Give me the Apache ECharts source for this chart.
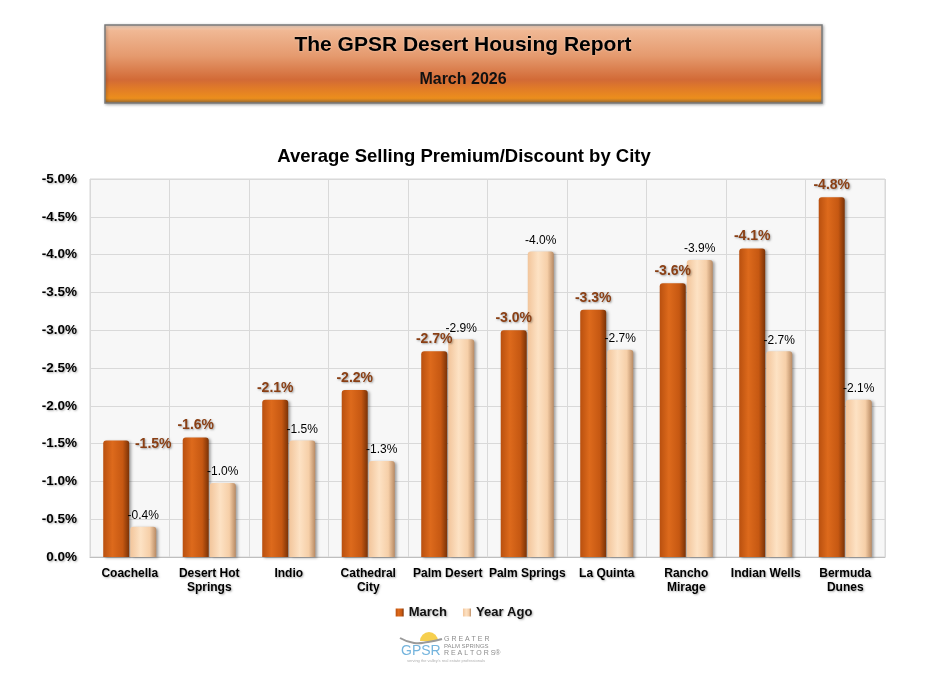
<!DOCTYPE html>
<html style="height: 100%">
<head>
    <meta charset="utf-8">
    <style>
        body{margin:0;background:#fff}
        #container{width:928px;height:674px}
    </style>
</head>
<body>
<div id="container"></div>
<script src="https://cdn.jsdelivr.net/npm/echarts@6/dist/echarts.min.js"></script>
<script type="text/javascript">
    var cities = ["Coachella", "Desert Hot\nSprings", "Indio", "Cathedral\nCity", "Palm Desert",
        "Palm Springs", "La Quinta", "Rancho\nMirage", "Indian Wells", "Bermuda\nDunes"];
    var march = [-1.54, -1.58, -2.08, -2.21, -2.72, -3.0, -3.27, -3.62, -4.08, -4.76];
    var yearAgo = [-0.40, -0.98, -1.54, -1.27, -2.88, -4.04, -2.74, -3.93, -2.72, -2.08];
    var seriesNames = ["March", "Year Ago"];

    var font = "Liberation Sans, Arial, sans-serif";
    var myChart = echarts.init(document.getElementById("container"));

    function pct(v) {
        return v.toFixed(1) + "%";
    }

    // coachella's march label sits to the right of its bar in the original
    var marchData = march.map(function (v, i) {
        if (i === 0) {
            return {value: v, label: {offset: [37, 16]}};
        }
        return v;
    });

    var option = {
        backgroundColor: "#fff",
        textStyle: {fontFamily: font},
        title: {
            text: "Average Selling Premium/Discount by City",
            left: "center",
            top: 142,
            textStyle: {fontSize: 18.5, fontWeight: "bold", color: "#000", fontFamily: font}
        },
        legend: {
            data: seriesNames,
            left: "center",
            top: 601,
            icon: "rect",
            itemWidth: 8,
            itemHeight: 8,
            itemGap: 16,
            textStyle: {
                fontSize: 13, fontWeight: "bold", color: "#111", fontFamily: font,
                textShadowColor: "rgba(0,0,0,0.3)", textShadowBlur: 2, textShadowOffsetX: 1, textShadowOffsetY: 1
            }
        },
        grid: {
            left: 90,
            right: 43,
            top: 179,
            bottom: 117,
            show: true,
            backgroundColor: "#f7f7f7",
            borderColor: "#d6d6d6",
            borderWidth: 1
        },
        xAxis: {
            type: "category",
            data: cities,
            axisTick: {show: false},
            axisLine: {lineStyle: {color: "#bfbfbf"}},
            splitLine: {show: true, lineStyle: {color: "#d9d9d9"}},
            axisLabel: {
                interval: 0,
                margin: 10,
                fontSize: 12,
                fontWeight: "bold",
                lineHeight: 14,
                color: "#000",
                fontFamily: font,
                textShadowColor: "rgba(0,0,0,0.3)", textShadowBlur: 2, textShadowOffsetX: 1, textShadowOffsetY: 1
            }
        },
        yAxis: {
            type: "value",
            inverse: true,
            min: -5,
            max: 0,
            interval: 0.5,
            axisLine: {show: false},
            axisTick: {show: false},
            splitLine: {lineStyle: {color: "#d9d9d9"}},
            axisLabel: {
                margin: 13,
                fontSize: 13.5,
                fontWeight: "bold",
                color: "#000",
                fontFamily: font,
                formatter: function (v) { return pct(Math.abs(v) < 1e-9 ? 0 : v); },
                textShadowColor: "rgba(0,0,0,0.3)", textShadowBlur: 2, textShadowOffsetX: 1, textShadowOffsetY: 1
            }
        },
        series: [
            {
                name: seriesNames[0],
                type: "bar",
                data: marchData,
                barWidth: 26,
                barGap: "4%",
                itemStyle: {
                    color: new echarts.graphic.LinearGradient(0, 0, 1, 0, [
                        {offset: 0, color: "#b9500f"},
                        {offset: 0.35, color: "#dd6a1c"},
                        {offset: 0.75, color: "#c65812"},
                        {offset: 1, color: "#7a3206"}
                    ]),
                    borderRadius: [3, 3, 0, 0],
                    shadowColor: "rgba(0,0,0,0.35)",
                    shadowBlur: 3,
                    shadowOffsetX: 2,
                    shadowOffsetY: 1
                },
                label: {
                    show: true,
                    position: "top",
                    distance: 5,
                    formatter: function (p) { return pct(p.value); },
                    fontSize: 14,
                    fontWeight: "bold",
                    color: "#8a3f14",
                    fontFamily: font,
                    textShadowColor: "rgba(0,0,0,0.35)", textShadowBlur: 2, textShadowOffsetX: 1, textShadowOffsetY: 1
                }
            },
            {
                name: seriesNames[1],
                type: "bar",
                data: yearAgo,
                barWidth: 26,
                itemStyle: {
                    color: new echarts.graphic.LinearGradient(0, 0, 1, 0, [
                        {offset: 0, color: "#f2c59b"},
                        {offset: 0.4, color: "#fde2c4"},
                        {offset: 0.75, color: "#f6cfa8"},
                        {offset: 1, color: "#b88a63"}
                    ]),
                    borderRadius: [3, 3, 0, 0],
                    shadowColor: "rgba(0,0,0,0.35)",
                    shadowBlur: 3,
                    shadowOffsetX: 2,
                    shadowOffsetY: 1
                },
                label: {
                    show: true,
                    position: "top",
                    distance: 5,
                    formatter: function (p) { return pct(p.value); },
                    fontSize: 12,
                    color: "#000",
                    fontFamily: font
                }
            }
        ],
        graphic: [
            {
                type: "rect",
                shape: {x: 105, y: 25, width: 717, height: 78},
                style: {
                    fill: new echarts.graphic.LinearGradient(0, 0, 0, 1, [
                        {offset: 0, color: "#fbe4d4"},
                        {offset: 0.08, color: "#f0b894"},
                        {offset: 0.4, color: "#e59a6e"},
                        {offset: 0.7, color: "#d26a36"},
                        {offset: 0.8, color: "#e07a28"},
                        {offset: 0.93, color: "#ec8e1c"},
                        {offset: 1, color: "#8a6436"}
                    ]),
                    stroke: "#7a7a7a",
                    lineWidth: 1.5,
                    shadowColor: "rgba(0,0,0,0.3)",
                    shadowBlur: 3,
                    shadowOffsetX: 1,
                    shadowOffsetY: 1
                }
            },
            {
                type: "text",
                x: 463,
                y: 45,
                style: {
                    text: "The GPSR Desert Housing Report",
                    fontSize: 21,
                    fontWeight: "bold",
                    fontFamily: font,
                    fill: "#000",
                    align: "center",
                    verticalAlign: "middle",
                    textShadowColor: "rgba(255,255,255,0.5)",
                    textShadowBlur: 2
                }
            },
            {
                type: "text",
                x: 463,
                y: 80,
                style: {
                    text: "March 2026",
                    fontSize: 16,
                    fontWeight: "bold",
                    fontFamily: font,
                    fill: "#111",
                    align: "center",
                    verticalAlign: "middle"
                }
            },
            // GPSR logo
            {
                type: "sector",
                shape: {cx: 429, cy: 641, r: 9, r0: 0, startAngle: Math.PI, endAngle: Math.PI * 2},
                style: {fill: "#f6cf4e"}
            },
            {
                type: "polyline",
                shape: {points: [[400, 638], [414, 643], [428, 642], [442, 639]], smooth: 0.5},
                style: {stroke: "#9a9a9a", lineWidth: 2, fill: null}
            },
            {
                type: "text",
                x: 401,
                y: 651,
                style: {
                    text: "GPSR", fontSize: 14, fontFamily: font,
                    fill: "#74b4dd", verticalAlign: "middle"
                }
            },
            {
                type: "text",
                x: 444,
                y: 639,
                style: {text: "G R E A T E R", fontSize: 7, fontFamily: font, fill: "#8c8c8c", verticalAlign: "middle"}
            },
            {
                type: "text",
                x: 444,
                y: 646,
                style: {text: "PALM SPRINGS", fontSize: 6, fontFamily: font, fill: "#8c8c8c", verticalAlign: "middle"}
            },
            {
                type: "text",
                x: 444,
                y: 653,
                style: {text: "R E A L T O R S®", fontSize: 7, fontFamily: font, fill: "#8c8c8c", verticalAlign: "middle"}
            },
            {
                type: "text",
                x: 446,
                y: 661,
                style: {
                    text: "serving the valley's real estate professionals", fontSize: 4, fontFamily: font,
                    fill: "#b0b0b0", align: "center", verticalAlign: "middle"
                }
            }
        ]
    };

    myChart.setOption(option);
</script>
</body>
</html>
